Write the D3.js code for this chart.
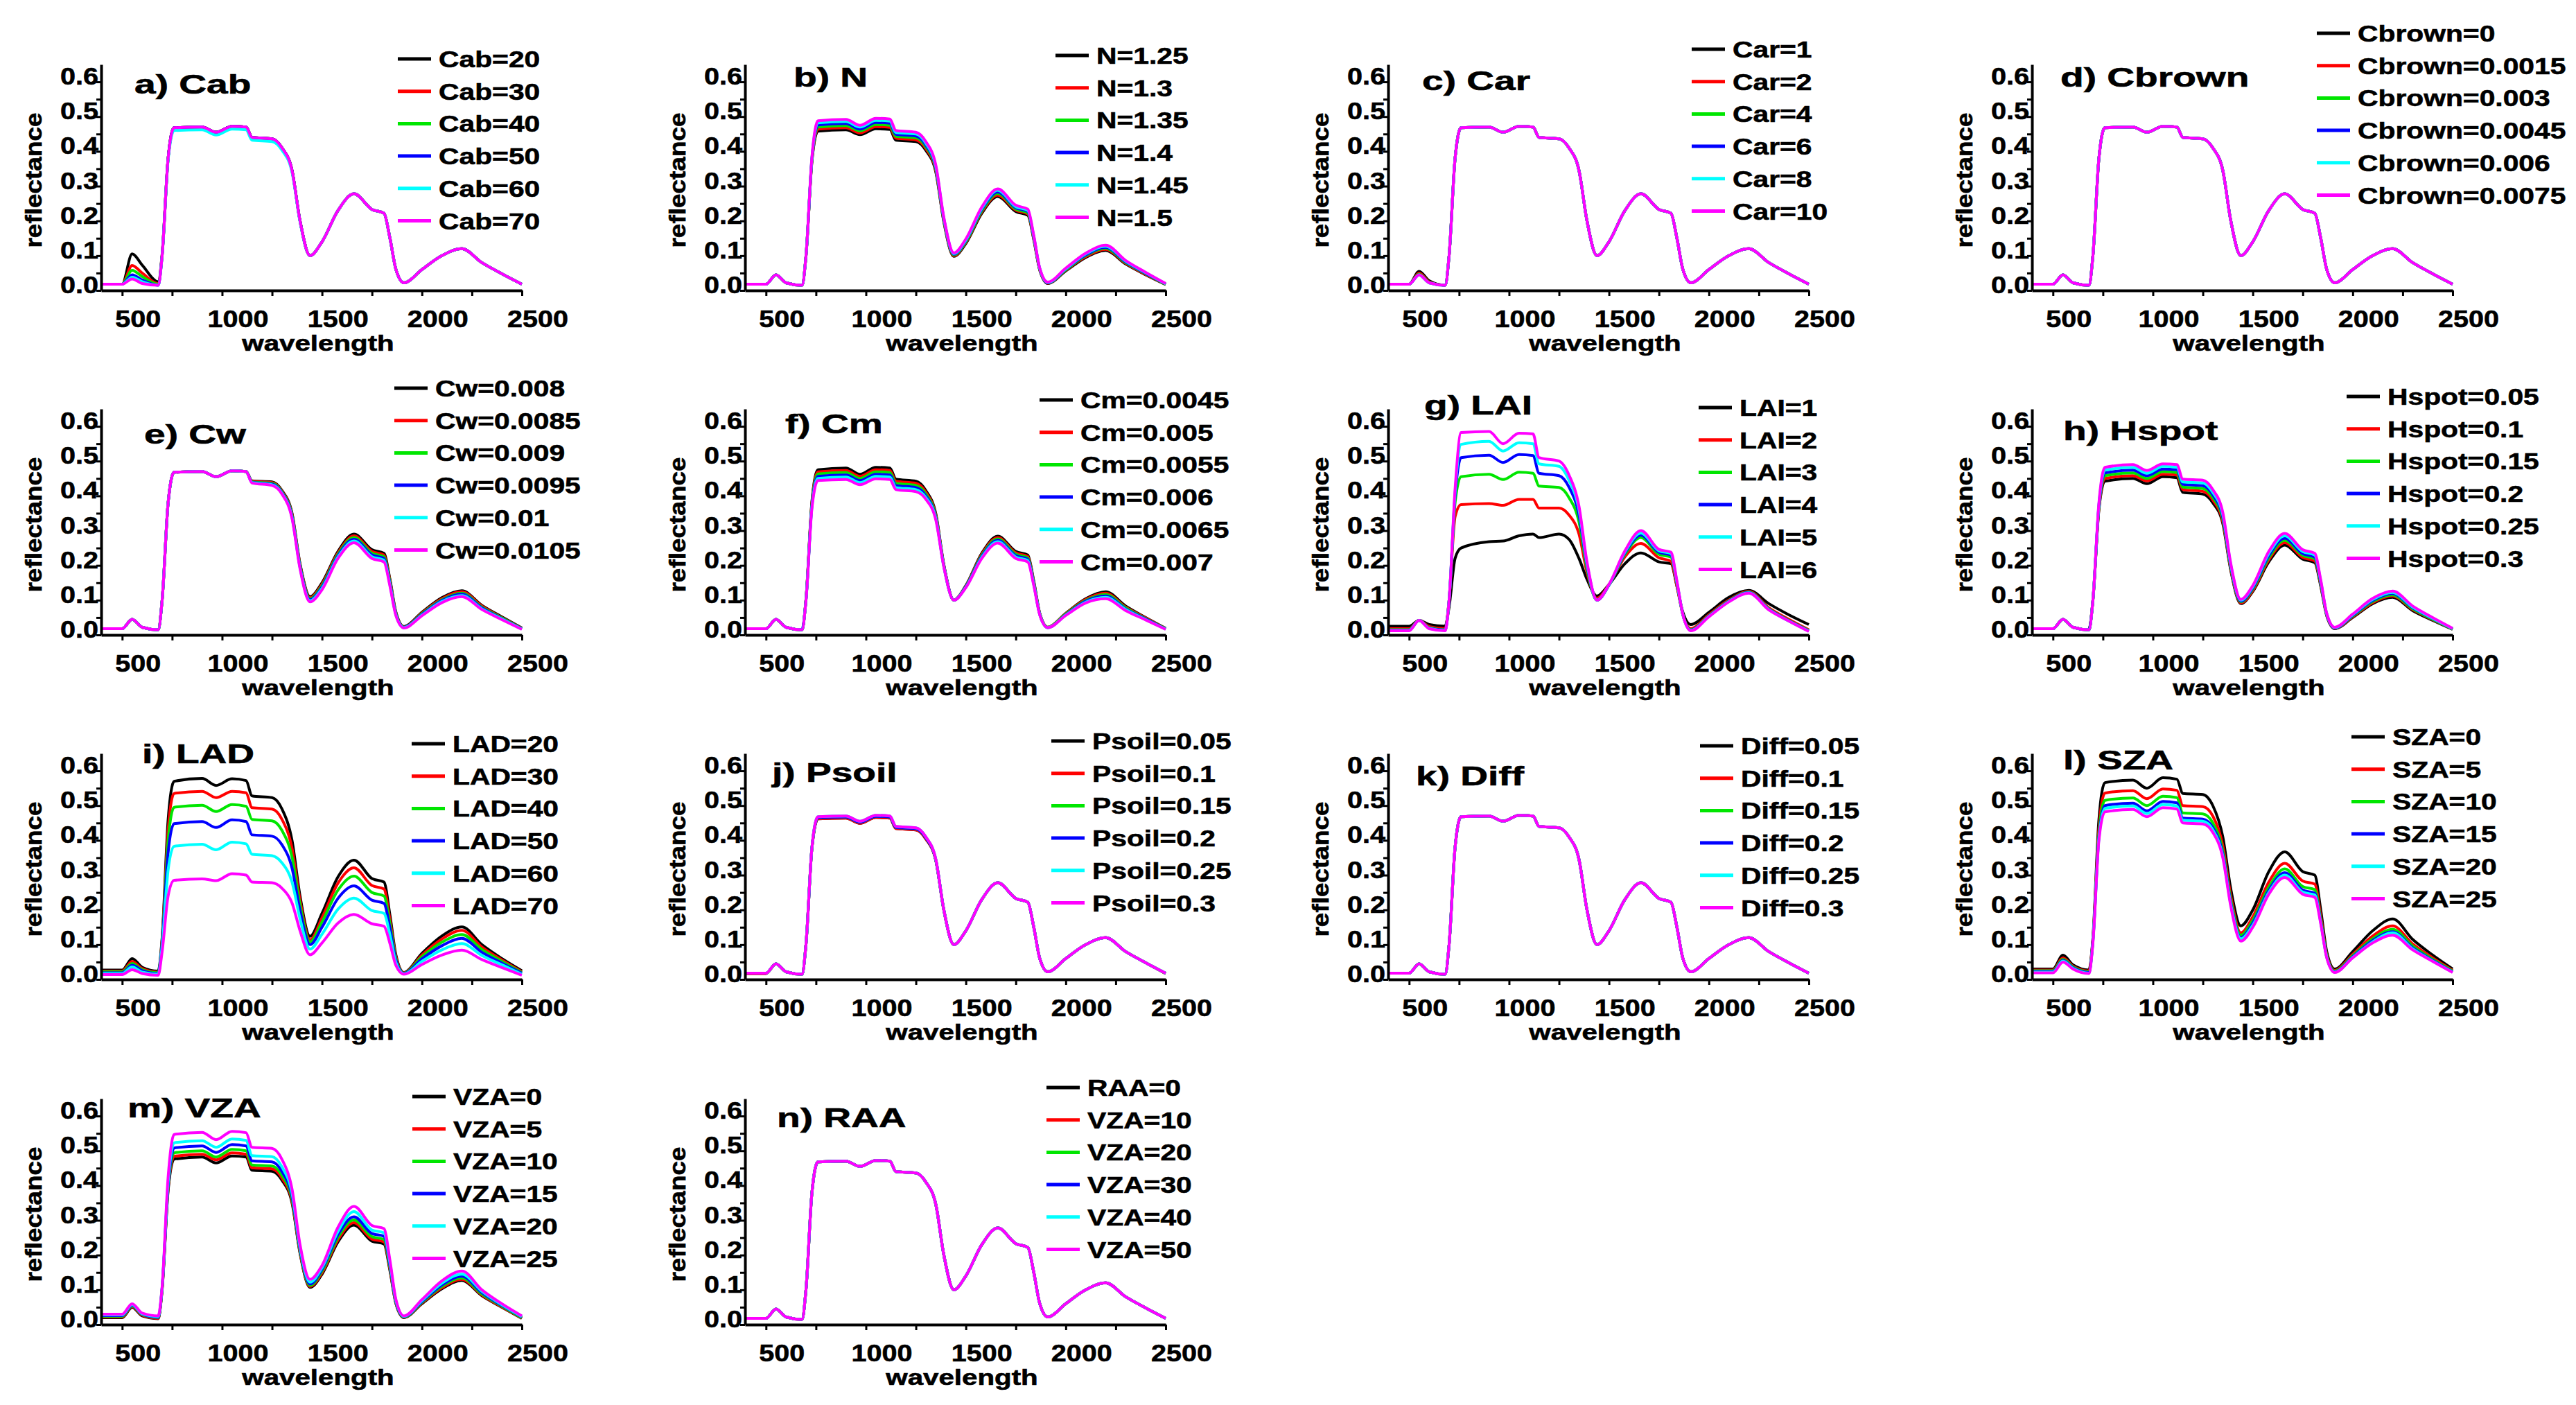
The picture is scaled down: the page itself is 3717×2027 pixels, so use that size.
<!DOCTYPE html>
<html>
<head>
  <meta charset="UTF-8">
  <title>PROSAIL sensitivity panels</title>
  <style>
    body { margin: 0; background: #ffffff; }
    text { font-family: "Liberation Sans", Arial, sans-serif; font-weight: bold; fill: #000; stroke: #000; stroke-width: 0.6px; }
  </style>
</head>
<body>
  <svg id="fig"></svg>

  <script src="https://cdn.jsdelivr.net/npm/d3@7"></script>
  <script>
    // wavelength grid (nm) shared by every curve
    var wl = [400, 500, 550, 600, 680, 700, 730, 760, 900, 970, 1050, 1120, 1150, 1250, 1300, 1350,
              1390, 1440, 1500, 1580, 1660, 1750, 1810, 1840, 1870, 1910, 2000, 2100, 2200, 2300, 2400, 2500];

    // tick labels
    var xTickVals = [500, 1000, 1500, 2000, 2500];
    var xTickLabels = ["500", "1000", "1500", "2000", "2500"];
    var yTickVals = [0, 0.1, 0.2, 0.3, 0.4, 0.5, 0.6];
    var yTickLabels = ["0.0", "0.1", "0.2", "0.3", "0.4", "0.5", "0.6"];

    // curve that all six runs share when the parameter has no visible effect
    var base = [0.018,0.018,0.045,0.022,0.015,0.100,0.380,0.468,0.470,0.455,0.472,0.470,0.440,0.436,0.410,0.345,0.200,0.100,0.140,0.230,0.278,0.233,0.222,0.150,0.060,0.022,0.060,0.100,0.120,0.080,0.048,0.018];

    // a) Cab
    var legendCab = ["Cab=20", "Cab=30", "Cab=40", "Cab=50", "Cab=60", "Cab=70"];
    var reflCab = [
      [0.018,0.018,0.105,0.073,0.025,0.105,0.380,0.468,0.470,0.455,0.472,0.470,0.440,0.436,0.410,0.345,0.200,0.100,0.140,0.230,0.278,0.233,0.222,0.150,0.060,0.022,0.060,0.100,0.120,0.080,0.048,0.018],
      [0.018,0.018,0.072,0.050,0.020,0.102,0.380,0.468,0.470,0.455,0.472,0.470,0.440,0.436,0.410,0.345,0.200,0.100,0.140,0.230,0.278,0.233,0.222,0.150,0.060,0.022,0.060,0.100,0.120,0.080,0.048,0.018],
      [0.018,0.018,0.058,0.040,0.018,0.100,0.380,0.468,0.470,0.455,0.472,0.470,0.440,0.436,0.410,0.345,0.200,0.100,0.140,0.230,0.278,0.233,0.222,0.150,0.060,0.022,0.060,0.100,0.120,0.080,0.048,0.018],
      [0.018,0.018,0.045,0.030,0.015,0.100,0.380,0.468,0.470,0.455,0.472,0.470,0.440,0.436,0.410,0.345,0.200,0.100,0.140,0.230,0.278,0.233,0.222,0.150,0.060,0.022,0.060,0.100,0.120,0.080,0.048,0.018],
      [0.018,0.018,0.038,0.025,0.015,0.100,0.375,0.460,0.462,0.447,0.464,0.462,0.432,0.428,0.403,0.340,0.197,0.100,0.140,0.230,0.278,0.233,0.222,0.150,0.060,0.022,0.060,0.100,0.120,0.080,0.048,0.018],
      [0.018,0.018,0.033,0.020,0.015,0.100,0.380,0.468,0.470,0.455,0.472,0.470,0.440,0.436,0.410,0.345,0.200,0.100,0.140,0.230,0.278,0.233,0.222,0.150,0.060,0.022,0.060,0.100,0.120,0.080,0.048,0.018]
    ];

    // b) N
    var legendN = ["N=1.25", "N=1.3", "N=1.35", "N=1.4", "N=1.45", "N=1.5"];
    var reflN = [
      [0.018,0.018,0.045,0.022,0.015,0.098,0.372,0.458,0.462,0.448,0.465,0.463,0.432,0.428,0.403,0.340,0.197,0.098,0.135,0.222,0.270,0.227,0.216,0.146,0.058,0.020,0.056,0.095,0.115,0.076,0.045,0.017],
      [0.018,0.018,0.045,0.022,0.015,0.098,0.374,0.464,0.468,0.453,0.471,0.469,0.438,0.433,0.408,0.344,0.200,0.100,0.138,0.226,0.274,0.231,0.220,0.148,0.059,0.021,0.058,0.097,0.118,0.078,0.046,0.018],
      [0.018,0.018,0.045,0.022,0.015,0.098,0.377,0.470,0.474,0.459,0.477,0.475,0.443,0.439,0.413,0.348,0.202,0.102,0.140,0.229,0.279,0.234,0.223,0.151,0.060,0.022,0.059,0.100,0.121,0.080,0.048,0.018],
      [0.018,0.018,0.045,0.022,0.015,0.098,0.380,0.476,0.480,0.464,0.483,0.481,0.449,0.444,0.418,0.352,0.205,0.104,0.143,0.233,0.283,0.238,0.227,0.153,0.062,0.022,0.061,0.102,0.124,0.082,0.049,0.019],
      [0.018,0.018,0.045,0.022,0.015,0.098,0.382,0.482,0.486,0.470,0.489,0.487,0.454,0.450,0.423,0.356,0.208,0.106,0.145,0.236,0.288,0.241,0.230,0.156,0.063,0.023,0.062,0.105,0.127,0.084,0.051,0.019],
      [0.018,0.018,0.045,0.022,0.015,0.098,0.385,0.488,0.492,0.475,0.495,0.493,0.460,0.455,0.428,0.360,0.210,0.108,0.148,0.240,0.292,0.245,0.234,0.158,0.064,0.024,0.064,0.107,0.130,0.086,0.052,0.020]
    ];

    // c) Car
    var legendCar = ["Car=1", "Car=2", "Car=4", "Car=6", "Car=8", "Car=10"];
    var carLow = [0.018,0.018,0.055,0.028,0.015,0.100,0.380,0.468,0.470,0.455,0.472,0.470,0.440,0.436,0.410,0.345,0.200,0.100,0.140,0.230,0.278,0.233,0.222,0.150,0.060,0.022,0.060,0.100,0.120,0.080,0.048,0.018];
    var carTwo = [0.018,0.018,0.050,0.025,0.015,0.100,0.380,0.468,0.470,0.455,0.472,0.470,0.440,0.436,0.410,0.345,0.200,0.100,0.140,0.230,0.278,0.233,0.222,0.150,0.060,0.022,0.060,0.100,0.120,0.080,0.048,0.018];
    var carFour = [0.018,0.018,0.047,0.023,0.015,0.100,0.380,0.468,0.470,0.455,0.472,0.470,0.440,0.436,0.410,0.345,0.200,0.100,0.140,0.230,0.278,0.233,0.222,0.150,0.060,0.022,0.060,0.100,0.120,0.080,0.048,0.018];
    var reflCar = [carLow, carTwo, carFour, base, base, base];

    // d) Cbrown
    var legendCbrown = ["Cbrown=0", "Cbrown=0.0015", "Cbrown=0.003", "Cbrown=0.0045", "Cbrown=0.006", "Cbrown=0.0075"];
    var reflCbrown = [base, base, base, base, base, base];

    // e) Cw
    var legendCw = ["Cw=0.008", "Cw=0.0085", "Cw=0.009", "Cw=0.0095", "Cw=0.01", "Cw=0.0105"];
    var reflCw = [
      [0.018,0.018,0.045,0.022,0.015,0.100,0.380,0.468,0.470,0.455,0.472,0.470,0.443,0.440,0.415,0.350,0.205,0.110,0.150,0.240,0.290,0.245,0.235,0.160,0.065,0.024,0.065,0.107,0.127,0.085,0.052,0.020],
      [0.018,0.018,0.045,0.022,0.015,0.100,0.380,0.468,0.470,0.455,0.472,0.470,0.442,0.438,0.413,0.347,0.202,0.107,0.146,0.236,0.285,0.240,0.230,0.156,0.063,0.023,0.063,0.104,0.124,0.083,0.050,0.019],
      [0.018,0.018,0.045,0.022,0.015,0.100,0.380,0.468,0.470,0.455,0.472,0.470,0.440,0.436,0.411,0.344,0.199,0.104,0.142,0.232,0.280,0.235,0.225,0.152,0.061,0.022,0.061,0.101,0.120,0.080,0.049,0.018],
      [0.018,0.018,0.045,0.022,0.015,0.100,0.380,0.468,0.470,0.455,0.472,0.470,0.439,0.434,0.409,0.341,0.196,0.101,0.138,0.228,0.275,0.230,0.220,0.148,0.059,0.022,0.059,0.099,0.117,0.078,0.047,0.018],
      [0.018,0.018,0.045,0.022,0.015,0.100,0.380,0.468,0.470,0.455,0.472,0.470,0.438,0.432,0.407,0.338,0.193,0.098,0.134,0.224,0.270,0.225,0.215,0.144,0.057,0.021,0.057,0.096,0.113,0.075,0.046,0.017],
      [0.018,0.018,0.045,0.022,0.015,0.100,0.380,0.468,0.470,0.455,0.472,0.470,0.437,0.430,0.405,0.335,0.190,0.095,0.130,0.220,0.265,0.220,0.210,0.140,0.055,0.020,0.055,0.093,0.110,0.073,0.044,0.016]
    ];

    // f) Cm
    var legendCm = ["Cm=0.0045", "Cm=0.005", "Cm=0.0055", "Cm=0.006", "Cm=0.0065", "Cm=0.007"];
    var reflCm = [
      [0.018,0.018,0.045,0.022,0.015,0.102,0.385,0.475,0.480,0.462,0.482,0.480,0.448,0.442,0.415,0.348,0.202,0.100,0.142,0.235,0.284,0.240,0.230,0.155,0.062,0.022,0.062,0.104,0.124,0.083,0.050,0.019],
      [0.018,0.018,0.045,0.022,0.015,0.101,0.381,0.469,0.473,0.456,0.475,0.473,0.442,0.436,0.410,0.344,0.201,0.100,0.141,0.232,0.280,0.236,0.226,0.152,0.061,0.022,0.061,0.102,0.120,0.080,0.049,0.018],
      [0.018,0.018,0.045,0.022,0.015,0.100,0.377,0.463,0.467,0.450,0.469,0.467,0.436,0.430,0.405,0.341,0.199,0.100,0.140,0.229,0.276,0.232,0.222,0.150,0.060,0.022,0.060,0.099,0.116,0.078,0.047,0.018],
      [0.018,0.018,0.045,0.022,0.015,0.100,0.373,0.456,0.460,0.444,0.462,0.460,0.430,0.424,0.400,0.337,0.198,0.100,0.139,0.226,0.272,0.228,0.218,0.147,0.059,0.021,0.058,0.097,0.112,0.075,0.046,0.017],
      [0.018,0.018,0.045,0.022,0.015,0.099,0.369,0.450,0.454,0.438,0.456,0.454,0.424,0.418,0.395,0.334,0.196,0.100,0.137,0.223,0.268,0.224,0.214,0.145,0.058,0.021,0.057,0.094,0.108,0.073,0.044,0.017],
      [0.018,0.018,0.045,0.022,0.015,0.098,0.365,0.444,0.447,0.432,0.449,0.447,0.418,0.412,0.390,0.330,0.195,0.100,0.136,0.220,0.264,0.220,0.210,0.142,0.057,0.021,0.056,0.092,0.104,0.070,0.043,0.016]
    ];

    // g) LAI
    var legendLai = ["LAI=1", "LAI=2", "LAI=3", "LAI=4", "LAI=5", "LAI=6"];
    var reflLai = [
      [0.025,0.025,0.042,0.030,0.025,0.080,0.220,0.250,0.268,0.270,0.285,0.290,0.280,0.290,0.275,0.220,0.160,0.112,0.145,0.205,0.236,0.210,0.205,0.140,0.065,0.030,0.065,0.108,0.128,0.090,0.058,0.030],
      [0.018,0.018,0.042,0.024,0.018,0.100,0.340,0.375,0.378,0.373,0.390,0.390,0.365,0.365,0.345,0.290,0.180,0.105,0.145,0.225,0.263,0.222,0.212,0.140,0.058,0.018,0.058,0.100,0.125,0.078,0.045,0.015],
      [0.015,0.015,0.042,0.021,0.015,0.100,0.380,0.455,0.462,0.447,0.468,0.465,0.428,0.424,0.395,0.325,0.190,0.100,0.143,0.232,0.280,0.232,0.224,0.147,0.058,0.015,0.055,0.098,0.123,0.075,0.042,0.013],
      [0.014,0.014,0.042,0.020,0.014,0.100,0.400,0.510,0.517,0.496,0.519,0.516,0.465,0.458,0.425,0.345,0.200,0.100,0.143,0.236,0.287,0.238,0.230,0.150,0.058,0.014,0.054,0.097,0.122,0.074,0.041,0.012],
      [0.013,0.013,0.042,0.019,0.013,0.100,0.410,0.548,0.557,0.529,0.553,0.550,0.492,0.485,0.445,0.360,0.205,0.100,0.144,0.239,0.293,0.242,0.234,0.152,0.058,0.013,0.053,0.096,0.121,0.073,0.040,0.011],
      [0.012,0.012,0.042,0.018,0.012,0.100,0.420,0.582,0.585,0.550,0.580,0.578,0.510,0.500,0.460,0.370,0.210,0.100,0.145,0.242,0.300,0.246,0.238,0.155,0.058,0.012,0.052,0.095,0.120,0.072,0.040,0.010]
    ];

    // h) Hspot
    var legendHspot = ["Hspot=0.05", "Hspot=0.1", "Hspot=0.15", "Hspot=0.2", "Hspot=0.25", "Hspot=0.3"];
    var reflHspot = [
      [0.018,0.018,0.045,0.022,0.015,0.100,0.360,0.442,0.450,0.435,0.455,0.452,0.410,0.405,0.380,0.320,0.185,0.090,0.125,0.210,0.258,0.218,0.208,0.140,0.055,0.018,0.050,0.090,0.108,0.070,0.042,0.016],
      [0.018,0.018,0.045,0.022,0.015,0.100,0.364,0.450,0.458,0.443,0.462,0.460,0.418,0.413,0.388,0.326,0.189,0.092,0.128,0.216,0.265,0.223,0.213,0.144,0.056,0.019,0.052,0.093,0.112,0.073,0.044,0.017],
      [0.018,0.018,0.045,0.022,0.015,0.100,0.368,0.458,0.466,0.450,0.470,0.467,0.425,0.421,0.395,0.333,0.193,0.095,0.132,0.222,0.272,0.229,0.219,0.147,0.058,0.020,0.054,0.096,0.115,0.075,0.045,0.017],
      [0.018,0.018,0.045,0.022,0.015,0.100,0.372,0.466,0.474,0.458,0.477,0.475,0.433,0.429,0.403,0.339,0.197,0.097,0.135,0.228,0.278,0.234,0.224,0.151,0.059,0.020,0.056,0.099,0.119,0.078,0.047,0.018],
      [0.018,0.018,0.045,0.022,0.015,0.100,0.376,0.474,0.482,0.465,0.485,0.482,0.440,0.437,0.410,0.346,0.201,0.100,0.139,0.234,0.285,0.240,0.230,0.155,0.061,0.021,0.058,0.102,0.122,0.080,0.048,0.018],
      [0.018,0.018,0.045,0.022,0.015,0.100,0.380,0.482,0.490,0.473,0.492,0.490,0.448,0.445,0.418,0.352,0.205,0.102,0.142,0.240,0.292,0.245,0.235,0.158,0.062,0.022,0.060,0.105,0.126,0.083,0.050,0.019]
    ];

    // i) LAD
    var legendLad = ["LAD=20", "LAD=30", "LAD=40", "LAD=50", "LAD=60", "LAD=70"];
    var reflLad = [
      [0.027,0.027,0.060,0.035,0.024,0.120,0.460,0.570,0.578,0.558,0.577,0.572,0.528,0.523,0.490,0.400,0.240,0.124,0.190,0.295,0.343,0.290,0.280,0.185,0.070,0.020,0.075,0.125,0.151,0.100,0.060,0.025],
      [0.024,0.024,0.052,0.031,0.021,0.115,0.430,0.535,0.541,0.523,0.541,0.537,0.494,0.490,0.460,0.377,0.228,0.114,0.177,0.277,0.321,0.270,0.260,0.172,0.065,0.019,0.070,0.116,0.141,0.093,0.056,0.022],
      [0.022,0.022,0.046,0.028,0.019,0.110,0.400,0.495,0.501,0.483,0.503,0.498,0.460,0.456,0.428,0.352,0.215,0.108,0.165,0.257,0.297,0.250,0.240,0.160,0.060,0.018,0.065,0.107,0.129,0.086,0.052,0.020],
      [0.019,0.019,0.041,0.025,0.017,0.105,0.365,0.448,0.454,0.437,0.459,0.454,0.416,0.412,0.387,0.320,0.198,0.100,0.150,0.233,0.269,0.228,0.219,0.147,0.055,0.017,0.059,0.097,0.118,0.078,0.047,0.018],
      [0.017,0.017,0.036,0.021,0.015,0.095,0.315,0.383,0.389,0.373,0.395,0.390,0.360,0.356,0.335,0.280,0.175,0.087,0.130,0.202,0.234,0.198,0.190,0.128,0.048,0.016,0.052,0.085,0.103,0.069,0.042,0.015],
      [0.014,0.014,0.028,0.017,0.012,0.080,0.240,0.285,0.289,0.284,0.304,0.300,0.280,0.278,0.262,0.220,0.140,0.071,0.105,0.162,0.187,0.160,0.153,0.103,0.040,0.015,0.043,0.070,0.084,0.057,0.034,0.012]
    ];

    // j) Psoil
    var legendPsoil = ["Psoil=0.05", "Psoil=0.1", "Psoil=0.15", "Psoil=0.2", "Psoil=0.25", "Psoil=0.3"];
    var psoilLow = [0.017,0.017,0.045,0.022,0.015,0.100,0.378,0.462,0.464,0.449,0.466,0.464,0.434,0.430,0.404,0.342,0.199,0.100,0.140,0.230,0.278,0.233,0.222,0.150,0.060,0.022,0.060,0.100,0.120,0.080,0.048,0.017];
    var psoilMid = [0.018,0.018,0.045,0.022,0.015,0.100,0.379,0.465,0.467,0.452,0.469,0.467,0.437,0.433,0.407,0.343,0.200,0.100,0.140,0.230,0.278,0.233,0.222,0.150,0.060,0.022,0.060,0.100,0.120,0.080,0.048,0.018];
    var reflPsoil = [psoilLow, psoilLow, psoilMid, psoilMid, base, base];

    // k) Diff
    var legendDiff = ["Diff=0.05", "Diff=0.1", "Diff=0.15", "Diff=0.2", "Diff=0.25", "Diff=0.3"];
    var reflDiff = [base, base, base, base, base, base];

    // l) SZA
    var legendSza = ["SZA=0", "SZA=5", "SZA=10", "SZA=15", "SZA=20", "SZA=25"];
    var reflSza = [
      [0.030,0.030,0.070,0.042,0.027,0.120,0.460,0.566,0.573,0.550,0.580,0.576,0.535,0.532,0.500,0.410,0.260,0.154,0.200,0.310,0.367,0.310,0.300,0.200,0.080,0.030,0.080,0.140,0.174,0.115,0.070,0.030],
      [0.027,0.027,0.062,0.038,0.024,0.115,0.435,0.536,0.543,0.520,0.548,0.544,0.500,0.497,0.470,0.385,0.240,0.134,0.180,0.280,0.334,0.283,0.274,0.182,0.072,0.026,0.072,0.125,0.154,0.102,0.062,0.026],
      [0.025,0.025,0.058,0.036,0.022,0.112,0.420,0.515,0.522,0.500,0.527,0.523,0.479,0.476,0.450,0.370,0.228,0.127,0.170,0.265,0.318,0.267,0.258,0.172,0.068,0.024,0.068,0.117,0.144,0.096,0.058,0.024],
      [0.023,0.023,0.055,0.034,0.020,0.110,0.410,0.500,0.507,0.485,0.512,0.508,0.464,0.461,0.437,0.361,0.220,0.120,0.162,0.256,0.307,0.257,0.248,0.166,0.065,0.022,0.065,0.112,0.137,0.091,0.055,0.022],
      [0.021,0.021,0.053,0.032,0.018,0.108,0.405,0.492,0.499,0.477,0.503,0.499,0.458,0.455,0.430,0.355,0.215,0.117,0.156,0.250,0.300,0.251,0.243,0.163,0.064,0.021,0.063,0.108,0.134,0.088,0.053,0.021],
      [0.019,0.019,0.050,0.030,0.017,0.105,0.400,0.482,0.489,0.468,0.494,0.490,0.450,0.447,0.423,0.350,0.210,0.110,0.150,0.245,0.293,0.245,0.236,0.160,0.062,0.020,0.062,0.105,0.127,0.085,0.052,0.020]
    ];

    // m) VZA
    var legendVza = ["VZA=0", "VZA=5", "VZA=10", "VZA=15", "VZA=20", "VZA=25"];
    var reflVza = [
      [0.020,0.020,0.050,0.025,0.017,0.100,0.385,0.476,0.482,0.465,0.485,0.482,0.444,0.441,0.415,0.350,0.205,0.107,0.145,0.238,0.286,0.240,0.232,0.155,0.060,0.020,0.060,0.103,0.127,0.083,0.050,0.018],
      [0.022,0.022,0.052,0.027,0.018,0.102,0.390,0.484,0.490,0.474,0.494,0.490,0.451,0.448,0.421,0.355,0.208,0.110,0.149,0.244,0.293,0.246,0.238,0.159,0.062,0.021,0.062,0.106,0.130,0.085,0.051,0.019],
      [0.024,0.024,0.054,0.029,0.020,0.104,0.395,0.494,0.500,0.482,0.504,0.500,0.459,0.456,0.429,0.361,0.212,0.113,0.154,0.251,0.301,0.253,0.245,0.164,0.064,0.022,0.064,0.110,0.134,0.088,0.053,0.020],
      [0.026,0.026,0.056,0.030,0.021,0.106,0.400,0.508,0.514,0.495,0.518,0.514,0.471,0.468,0.440,0.369,0.217,0.117,0.159,0.259,0.310,0.262,0.254,0.170,0.066,0.023,0.066,0.114,0.139,0.092,0.055,0.022],
      [0.028,0.028,0.058,0.031,0.023,0.108,0.410,0.523,0.529,0.510,0.534,0.530,0.486,0.483,0.453,0.378,0.222,0.122,0.164,0.268,0.325,0.272,0.264,0.177,0.069,0.024,0.069,0.119,0.145,0.096,0.057,0.023],
      [0.030,0.030,0.060,0.033,0.025,0.110,0.425,0.547,0.553,0.532,0.556,0.552,0.510,0.507,0.475,0.390,0.230,0.130,0.170,0.280,0.340,0.285,0.276,0.185,0.072,0.025,0.072,0.126,0.154,0.100,0.060,0.025]
    ];

    // n) RAA (legend text as printed in the figure)
    var legendRaa = ["RAA=0", "VZA=10", "VZA=20", "VZA=30", "VZA=40", "VZA=50"];
    var reflRaa = [base, base, base, base, base, base];

    var colors = ["#000000", "#ff0000", "#00e600", "#0000ff", "#00ffff", "#ff00ff"];

    // page geometry
    var width = 3717, height = 2027;
    var colX = [146, 1075, 2003, 2932];      // y axis position of each column
    var rowY = [419, 916, 1413, 1911];       // x axis position of each row
    var plotW = 607, plotH = 326;

    // panel table: title and legend offsets relative to the axis origin
    var panels = [
      { title: "a) Cab",    refl: reflCab,    names: legendCab,    col: 0, row: 0, t: [48, -284], lg: [428, -334] },
      { title: "b) N",      refl: reflN,      names: legendN,      col: 1, row: 0, t: [70, -294], lg: [448, -339] },
      { title: "c) Car",    refl: reflCar,    names: legendCar,    col: 2, row: 0, t: [49, -289], lg: [438, -348] },
      { title: "d) Cbrown", refl: reflCbrown, names: legendCbrown, col: 3, row: 0, t: [41, -294], lg: [411, -371] },
      { title: "e) Cw",     refl: reflCw,     names: legendCw,     col: 0, row: 1, t: [62, -276], lg: [423, -356] },
      { title: "f) Cm",     refl: reflCm,     names: legendCm,     col: 1, row: 1, t: [58, -291], lg: [425, -339] },
      { title: "g) LAI",    refl: reflLai,    names: legendLai,    col: 2, row: 1, t: [52, -318], lg: [448, -328] },
      { title: "h) Hspot",  refl: reflHspot,  names: legendHspot,  col: 3, row: 1, t: [45, -281], lg: [454, -344] },
      { title: "i) LAD",    refl: reflLad,    names: legendLad,    col: 0, row: 2, t: [59, -312], lg: [448, -340] },
      { title: "j) Psoil",  refl: reflPsoil,  names: legendPsoil,  col: 1, row: 2, t: [39, -285], lg: [442, -344] },
      { title: "k) Diff",   refl: reflDiff,   names: legendDiff,   col: 2, row: 2, t: [40, -280], lg: [450, -337] },
      { title: "l) SZA",    refl: reflSza,    names: legendSza,    col: 3, row: 2, t: [45, -303], lg: [461, -350] },
      { title: "m) VZA",    refl: reflVza,    names: legendVza,    col: 0, row: 3, t: [38, -299], lg: [449, -329] },
      { title: "n) RAA",    refl: reflRaa,    names: legendRaa,    col: 1, row: 3, t: [46, -285], lg: [435, -342] }
    ];

    var svg = d3.select("#fig").attr("width", width).attr("height", height);
    svg.append("rect").attr("width", width).attr("height", height).attr("fill", "#fff");

    var x = d3.scaleLinear().domain([395, 2500]).range([0, plotW]);
    var y = d3.scaleLinear().domain([0, 0.65]).range([0, -plotH]);

    // the figure's lettering is wide, so every label is stretched along its reading direction
    function label(g, px, py, str, size, sx, anchor, rotate) {
      return g.append("text")
        .attr("transform", "translate(" + px + "," + py + ")" + (rotate ? " rotate(-90)" : "") + " scale(" + sx + ",1)")
        .attr("text-anchor", anchor)
        .style("font-size", size + "px")
        .text(str);
    }

    var line = d3.line()
      .x(function(d, i) { return x(wl[i]); })
      .y(function(d) { return y(d); })
      .curve(d3.curveMonotoneX);

    panels.forEach(function(p) {
      var g = svg.append("g").attr("transform", "translate(" + colX[p.col] + "," + rowY[p.row] + ")");

      // curves, black first so magenta ends up on top
      p.refl.forEach(function(vals, k) {
        g.append("path")
          .attr("d", line(vals))
          .attr("fill", "none")
          .attr("stroke", colors[k])
          .attr("stroke-width", 4)
          .attr("stroke-linejoin", "round");
      });

      // axes
      var xAxis = d3.axisBottom(x).tickValues(d3.range(500, 2501, 250)).tickFormat("").tickSize(8).tickSizeOuter(0);
      var yAxis = d3.axisLeft(y).tickValues(d3.range(0, 0.601, 0.05)).tickFormat("").tickSize(7).tickSizeOuter(0);
      var gx = g.append("g").call(xAxis);
      var gy = g.append("g").call(yAxis);
      [gx, gy].forEach(function(a) {
        a.select(".domain").attr("stroke", "#000").attr("stroke-width", 4);
        a.selectAll(".tick line").attr("stroke", "#000").attr("stroke-width", 3);
      });

      xTickVals.forEach(function(v, i) {
        label(g, x(v) + 23, 53, xTickLabels[i], 35, 1.13, "middle", false);
      });
      yTickVals.forEach(function(v, i) {
        label(g, -4, y(v) + 4, yTickLabels[i], 35, 1.13, "end", false);
      });

      label(g, 313, 87, "wavelength", 31, 1.3, "middle", false);
      label(g, -86, -159, "reflectance", 33, 1.12, "middle", true);

      label(g, p.t[0], p.t[1], p.title, 38, 1.45, "start", false);

      // legend
      p.names.forEach(function(name, k) {
        var ly = p.lg[1] + k * 46.7;
        g.append("line")
          .attr("x1", p.lg[0]).attr("x2", p.lg[0] + 48)
          .attr("y1", ly).attr("y2", ly)
          .attr("stroke", colors[k]).attr("stroke-width", 5);
        label(g, p.lg[0] + 59, ly + 12, name, 34, 1.2, "start", false);
      });
    });
  </script>
</body>
</html>
